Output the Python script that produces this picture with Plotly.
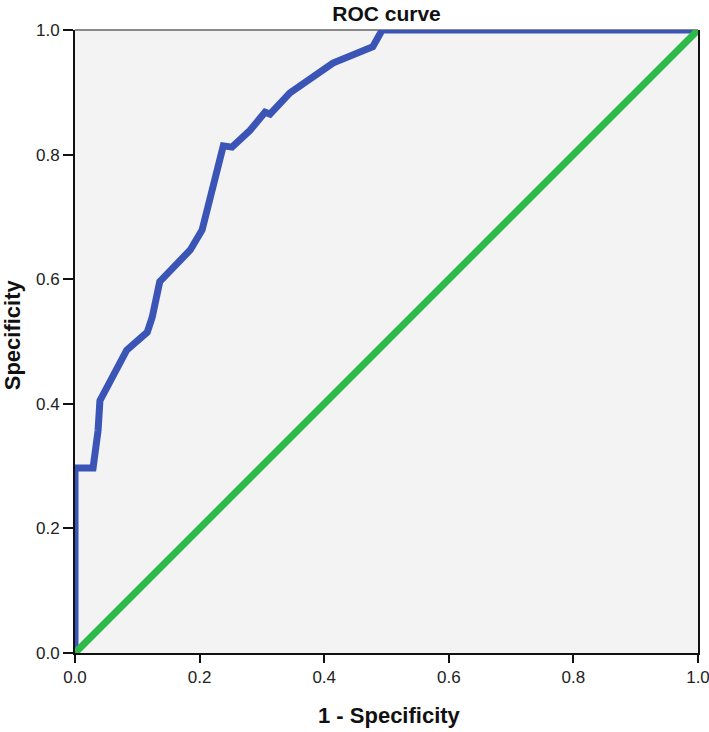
import plotly.graph_objects as go

# ROC curve points (1 - specificity, specificity)
roc_fpr = [0.0, 0.0, 0.029, 0.037, 0.040, 0.053, 0.083, 0.116, 0.124, 0.136,
           0.157, 0.185, 0.204, 0.238, 0.252, 0.281, 0.305, 0.313, 0.345,
           0.414, 0.478, 0.493, 1.0]
roc_tpr = [0.0, 0.297, 0.297, 0.357, 0.405, 0.430, 0.486, 0.515, 0.539, 0.596,
           0.618, 0.647, 0.679, 0.814, 0.812, 0.839, 0.868, 0.865, 0.899,
           0.947, 0.973, 1.0, 1.0]
ref_x = [0.0, 1.0]
ref_y = [0.0, 1.0]
tick_vals = [0.0, 0.2, 0.4, 0.6, 0.8, 1.0]
tick_text = ["0.0", "0.2", "0.4", "0.6", "0.8", "1.0"]

FONT = "Liberation Sans, Arial, sans-serif"

fig = go.Figure()
fig.add_trace(go.Scatter(x=roc_fpr, y=roc_tpr, mode="lines",
                         line=dict(color="#3A55B5", width=7), showlegend=False))
fig.add_trace(go.Scatter(x=ref_x, y=ref_y, mode="lines",
                         line=dict(color="#2DBA48", width=7), showlegend=False))

fig.add_shape(type="line", xref="paper", yref="paper", x0=0, x1=1, y0=1, y1=1,
              line=dict(color="#8a8a8a", width=2), layer="below")

fig.add_annotation(text="<b>1 - Specificity</b>", xref="paper", yref="paper",
                   x=0.505, y=0, yanchor="top", yshift=-48, showarrow=False,
                   font=dict(family=FONT, size=22, color="#111"))
fig.add_annotation(text="<b>Specificity</b>", xref="paper", yref="paper",
                   x=0, y=0.51, xanchor="center", xshift=-63, textangle=-90,
                   showarrow=False, font=dict(family=FONT, size=22, color="#111"))

axis_font = dict(family=FONT, size=17, color="#222")
fig.update_layout(
    width=709, height=732,
    margin=dict(l=75, r=11, t=30, b=79),
    paper_bgcolor="white",
    plot_bgcolor="#F3F3F3",
    title=dict(text="<b>ROC curve</b>", x=0.5, xref="paper", xanchor="center",
               y=0.982, yref="container", yanchor="middle", pad=dict(t=0, b=0),
               font=dict(family=FONT, size=21, color="#111")),
    xaxis=dict(range=[0, 1], tickvals=tick_vals, ticktext=tick_text,
               showgrid=False, zeroline=False, showline=True, linecolor="#111",
               linewidth=2, ticks="outside", ticklen=8, tickwidth=2, tickcolor="#111",
               tickfont=axis_font, automargin=False, ticklabeloverflow="allow"),
    yaxis=dict(range=[0, 1], tickvals=tick_vals, ticktext=tick_text,
               showgrid=False, zeroline=False, showline=True, linecolor="#111",
               linewidth=2, mirror=True, ticks="outside", ticklen=10, tickwidth=2,
               tickcolor="#111", tickfont=axis_font, automargin=False,
               ticklabeloverflow="allow"),
)

fig.write_html("out.html", config={"displayModeBar": False},
               post_script="document.body.style.margin='0';")
